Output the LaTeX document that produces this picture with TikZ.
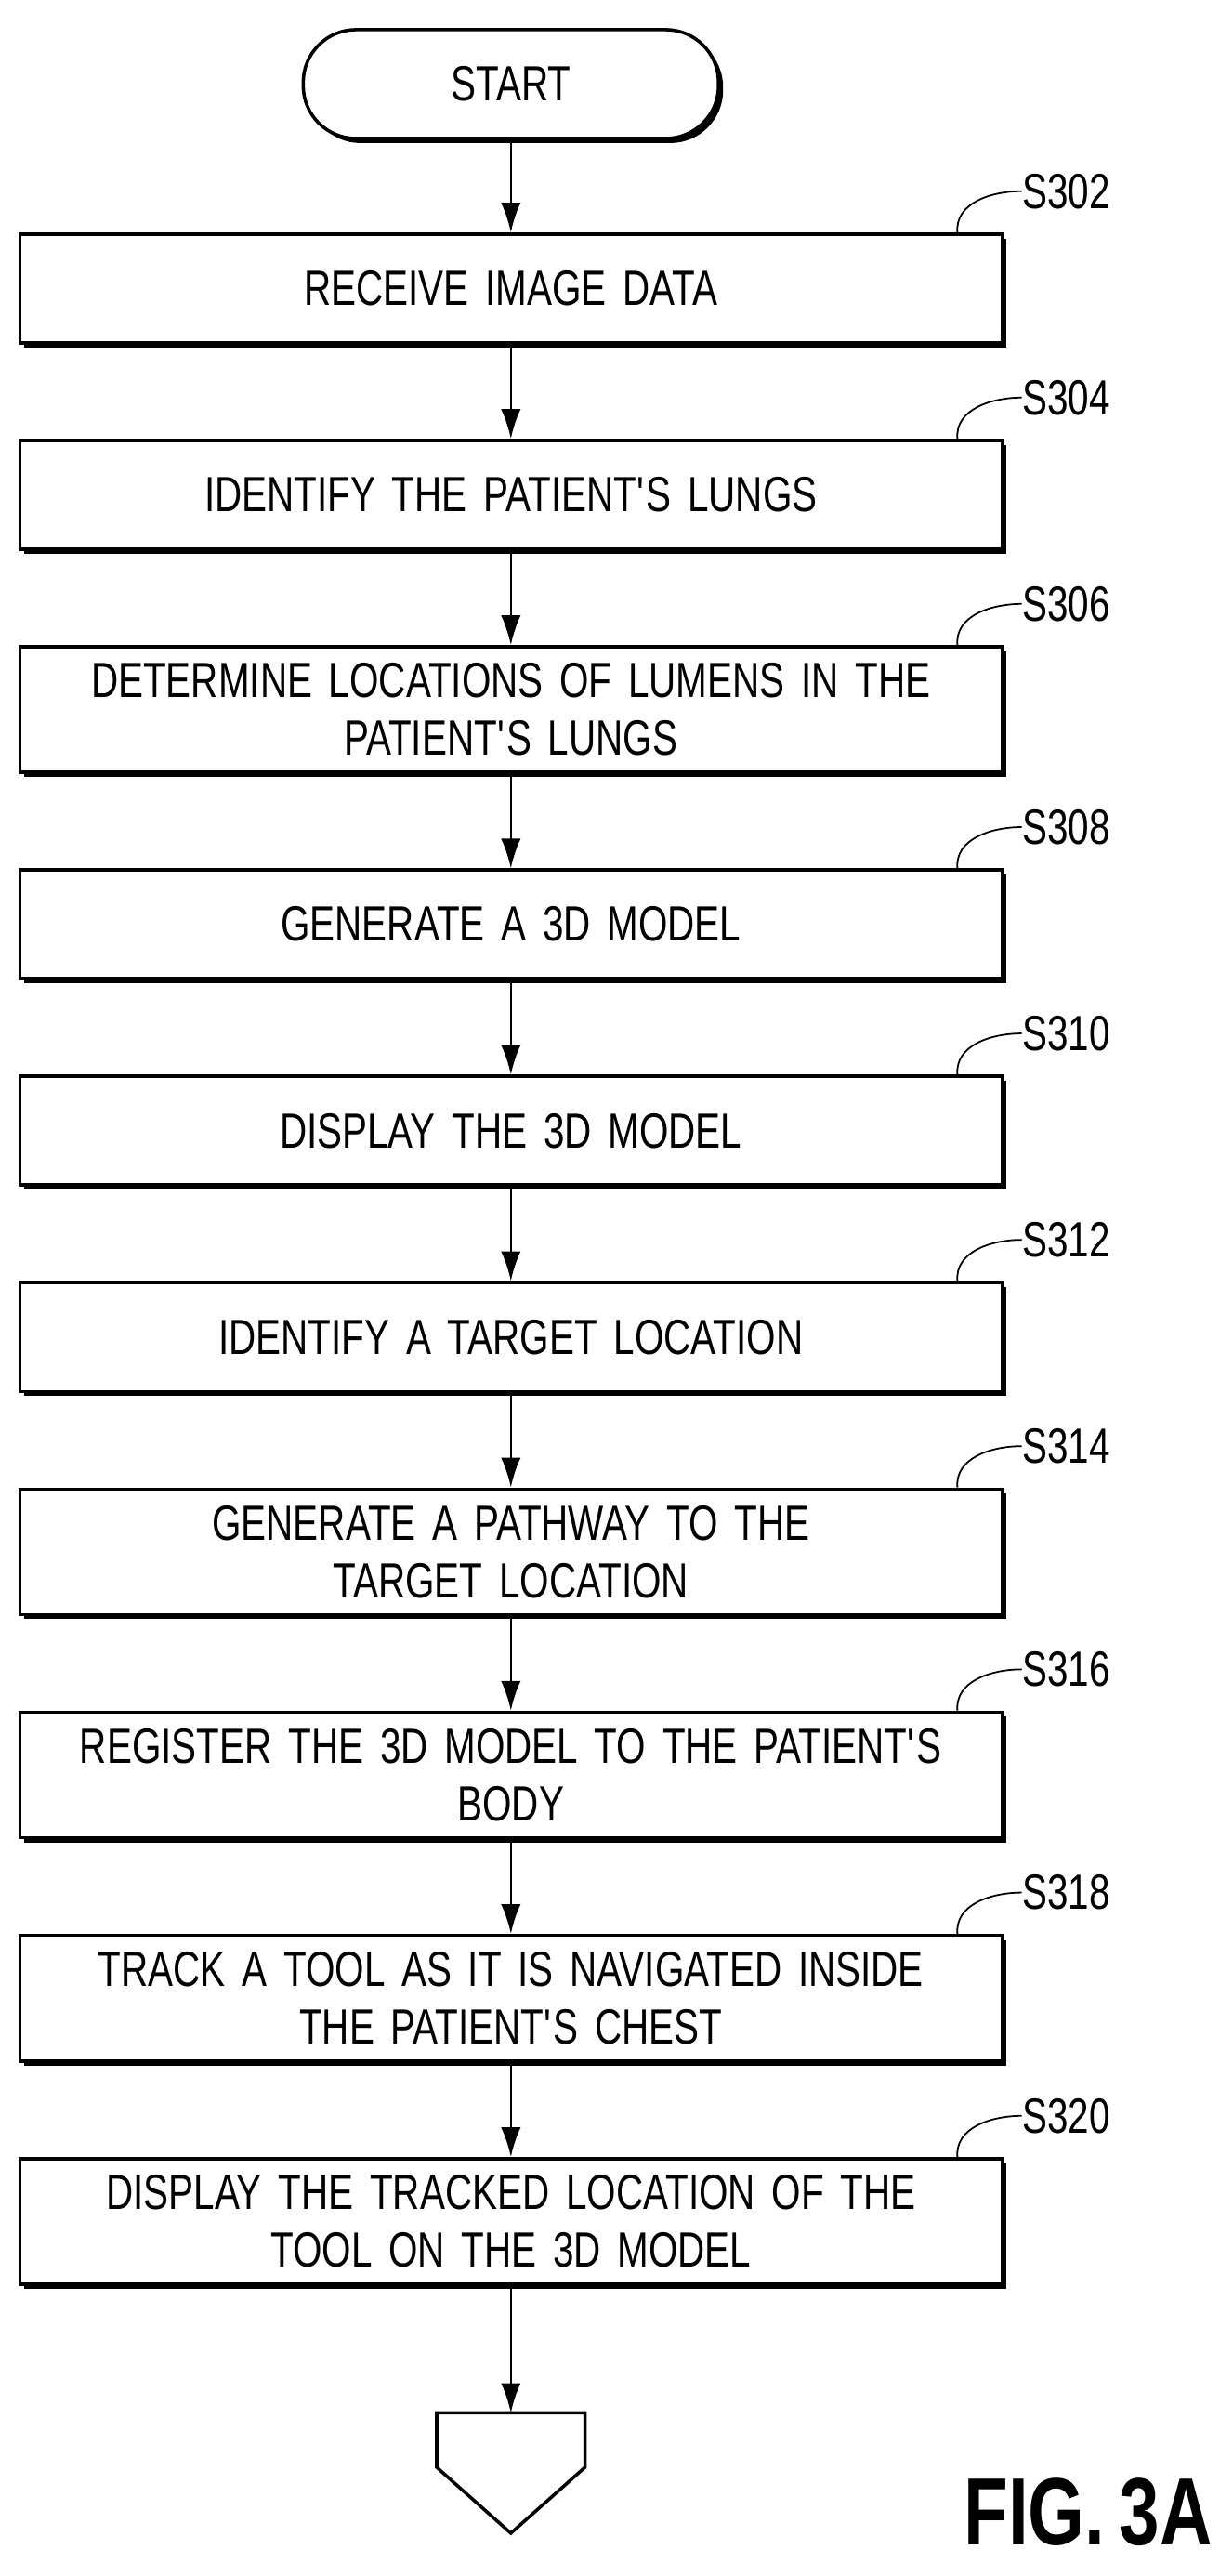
\documentclass[tikz,border=0pt]{standalone}
\usepackage{fontspec}
\setmainfont{Liberation Sans}[FakeStretch=0.76,WordSpace=0.7]
\usetikzlibrary{arrows.meta,positioning,shadows,calc}
\newcommand{\apos}{\textquotesingle}

\begin{document}
\begin{tikzpicture}[x=0.5pt,y=0.5pt,
			boxed/.style={draw=black, line width=1pt, fill=white, minimum height=33pt,
					inner ysep=5pt, font=\fontsize{15}{17.5}\selectfont,
					drop shadow={shadow xshift=1.4pt, shadow yshift=-1.4pt, fill=black, opacity=1}},
			stepbox/.style={boxed, rectangle, minimum width=298pt, text width=285pt, align=center},
			term/.style={boxed, rectangle, minimum width=126pt, rounded corners=16pt},
			tag/.style={anchor=west, inner sep=0pt, font=\fontsize{15}{18}\selectfont},
			flow/.style={-{Latex[length=9pt,width=6pt]}, line width=0.7pt},
			lead/.style={line width=0.5pt},
			node distance=28.6pt]
		\useasboundingbox (0,0) rectangle (740,-1563);

		\node (start) [term] at (310,-51) {START};
		\node (s302) [stepbox, below=28pt of start] {RECEIVE IMAGE DATA};
		\node (s304) [stepbox, below=of s302] {IDENTIFY THE PATIENT\apos S LUNGS};
		\node (s306) [stepbox, below=of s304] {DETERMINE LOCATIONS OF LUMENS IN THE\\ PATIENT\apos S LUNGS};
		\node (s308) [stepbox, below=of s306] {GENERATE A 3D MODEL};
		\node (s310) [stepbox, below=of s308] {DISPLAY THE 3D MODEL};
		\node (s312) [stepbox, below=of s310] {IDENTIFY A TARGET LOCATION};
		\node (s314) [stepbox, below=of s312] {GENERATE A PATHWAY TO THE\\ TARGET LOCATION};
		\node (s316) [stepbox, below=of s314] {REGISTER THE 3D MODEL TO THE PATIENT\apos S\\ BODY};
		\node (s318) [stepbox, below=of s316] {TRACK A TOOL AS IT IS NAVIGATED INSIDE\\ THE PATIENT\apos S CHEST};
		\node (s320) [stepbox, below=of s318] {DISPLAY THE TRACKED LOCATION OF THE\\ TOOL ON THE 3D MODEL};

		\coordinate (offpage) at ($(s320.south)+(0,-77)$);
		\draw [line width=1pt] (offpage) ++(-22.5pt,0) -- ++(0,-16.5pt) -- ++(22.5pt,-20pt)
			-- ++(22.5pt,20pt) -- ++(0,16.5pt) -- cycle;

		\draw [flow] (start) -- (s302);
		\foreach \a/\b in {302/304,304/306,306/308,308/310,310/312,312/314,314/316,316/318,318/320}
			\draw [flow] (s\a) -- (s\b);
		\draw [flow] (s320) -- (offpage);

		% step labels
		\foreach \n in {302,304,306,308,310,312,314,316,318,320} {
			\node (l\n) [tag] at ($(s\n.north east)+(11,25)$) {S\n};
			\draw [lead] ($(s\n.north east)+(-28,0)$) to[out=95,in=180] (l\n.west);
		}

		\node (fig) [anchor=south east, inner sep=0pt, font=\fontsize{29}{30}\bfseries\selectfont] at (736,-1545) {FIG. 3A};
	\end{tikzpicture}
\end{document}
